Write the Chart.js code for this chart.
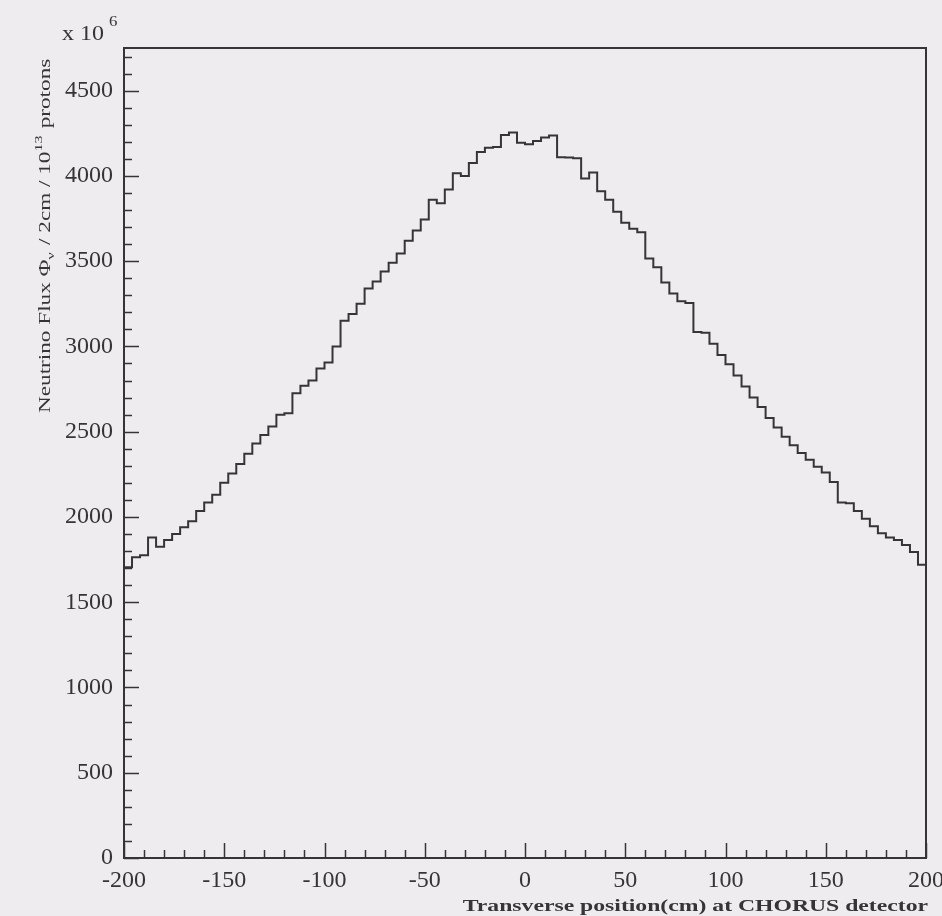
<!DOCTYPE html>
<html>
<head>
<meta charset="utf-8">
<script src="https://cdn.jsdelivr.net/npm/chart.js@4.4.1/dist/chart.umd.min.js"></script>
<style>
html,body{margin:0;padding:0;background:#eeecef;}
#wrap{width:942px;height:916px;}
canvas{display:block;}
</style>
</head>
<body>
<div id="wrap"><canvas id="c" width="942" height="916"></canvas></div>
<script>
// ---- data ----
const binLow = -200;
const binWidth = 4;
const fluxValues = [
  1705, 1764, 1775, 1880, 1825, 1865, 1900, 1940, 1975, 2035,
  2085, 2130, 2200, 2255, 2310, 2370, 2430, 2480, 2530, 2600,
  2608, 2725, 2770, 2800, 2870, 2905, 3000, 3150, 3190, 3250,
  3340, 3380, 3440, 3490, 3545, 3620, 3680, 3745, 3860, 3840,
  3920, 4015, 4000, 4075, 4140, 4165, 4170, 4240, 4255, 4195,
  4185, 4205, 4225, 4237, 4110, 4108, 4103, 3985, 4020, 3910,
  3860, 3790, 3725, 3690, 3670, 3515, 3465, 3375, 3310, 3265,
  3255, 3085, 3080, 3015, 2950, 2895, 2830, 2765, 2700, 2645,
  2580, 2525, 2470, 2420, 2375, 2335, 2295, 2260, 2205, 2085,
  2080, 2035, 1990, 1945, 1905, 1880, 1865, 1835, 1795, 1720
];
const xTickValues = [-200, -150, -100, -50, 0, 50, 100, 150, 200];
const yTickValues = [0, 500, 1000, 1500, 2000, 2500, 3000, 3500, 4000, 4500];
const xMinorStep = 10;
const yMinorStep = 100;
const xRange = [-200, 200];
const yRange = [0, 4750];
const xTitle = 'Transverse position(cm) at CHORUS detector';
const yTitleParts = ['Neutrino Flux \u03A6', '\u03BD', ' / 2cm / 10', '13', ' protons'];
const yExponentText = ['x 10', '6'];

// ---- styles ----
const bg = '#eeecef';
const ink = '#353535';
const serif = '"Liberation Serif", "DejaVu Serif", serif';

const histPoints = fluxValues.map((v, i) => ({x: binLow + i * binWidth, y: v}));
histPoints.push({x: binLow + fluxValues.length * binWidth, y: fluxValues[fluxValues.length - 1]});

function drawStretched(ctx, text, x, y, sx, align) {
  ctx.save();
  const w = ctx.measureText(text).width * sx;
  let x0 = x;
  if (align === 'right') x0 = x - w;
  else if (align === 'center') x0 = x - w / 2;
  ctx.translate(x0, y);
  ctx.scale(sx, 1);
  ctx.textAlign = 'left';
  ctx.fillText(text, 0, 0);
  ctx.restore();
  return w;
}

const rootStyle = {
  id: 'rootStyle',
  beforeDraw(chart) {
    const ctx = chart.ctx;
    ctx.save();
    ctx.fillStyle = bg;
    ctx.fillRect(0, 0, chart.width, chart.height);
    ctx.restore();
  },
  afterDatasetsDraw(chart) {
    const {ctx, chartArea: a, scales} = chart;
    const xs = scales.x, ys = scales.y;
    ctx.save();
    ctx.strokeStyle = ink;
    ctx.lineWidth = 2;
    ctx.strokeRect(a.left, a.top, a.right - a.left, a.bottom - a.top);
    ctx.lineWidth = 1.5;
    ctx.beginPath();
    for (let v = xRange[0]; v <= xRange[1]; v += xMinorStep) {
      const px = Math.round(xs.getPixelForValue(v)) + 0.5;
      const len = xTickValues.includes(v) ? 15 : 8;
      ctx.moveTo(px, a.bottom);
      ctx.lineTo(px, a.bottom - len);
    }
    for (let v = yRange[0]; v <= yRange[1]; v += yMinorStep) {
      const py = Math.round(ys.getPixelForValue(v)) + 0.5;
      const len = yTickValues.includes(v) ? 15 : 8;
      ctx.moveTo(a.left, py);
      ctx.lineTo(a.left + len, py);
    }
    ctx.stroke();
    ctx.restore();
  },
  afterDraw(chart) {
    const {ctx, chartArea: a} = chart;
    ctx.save();
    ctx.fillStyle = ink;
    ctx.textBaseline = 'alphabetic';
    // exponent label top-left
    ctx.font = '20px ' + serif;
    const w1 = drawStretched(ctx, yExponentText[0], 62, 40, 1.2, 'left');
    ctx.font = '14px ' + serif;
    drawStretched(ctx, yExponentText[1], 62 + w1 + 5, 26, 1.2, 'left');
    // x title, bottom right
    ctx.font = 'bold 16px ' + serif;
    drawStretched(ctx, xTitle, a.right + 2, 911, 1.48, 'right');
    // y title, rotated
    ctx.save();
    ctx.translate(50, 413);
    ctx.rotate(-Math.PI / 2);
    ctx.scale(1.45, 1);
    const big = '16px ' + serif, small = '11px ' + serif;
    let cx = 0;
    yTitleParts.forEach((t, i) => {
      const isSub = i === 1, isSup = i === 3;
      ctx.font = (isSub || isSup) ? small : big;
      const dy = isSub ? 4 : (isSup ? -8 : 0);
      ctx.fillText(t, cx, dy);
      cx += ctx.measureText(t).width + ((isSub || isSup) ? 1 : 0);
    });
    ctx.restore();
    ctx.restore();
  }
};

new Chart(document.getElementById('c'), {
  type: 'line',
  data: {
    datasets: [{
      data: histPoints,
      stepped: 'before',
      borderColor: ink,
      borderWidth: 2,
      pointRadius: 0,
      fill: false
    }]
  },
  options: {
    responsive: false,
    animation: false,
    devicePixelRatio: 1,
    layout: {padding: {top: 48, right: 16, left: 0, bottom: 0}},
    plugins: {legend: {display: false}, tooltip: {enabled: false}, title: {display: false}},
    scales: {
      x: {
        type: 'linear',
        min: xRange[0],
        max: xRange[1],
        afterBuildTicks(s) { s.ticks = xTickValues.map(v => ({value: v})); },
        afterFit(s) { s.height = 58; s.paddingLeft = 0; s.paddingRight = 0; },
        grid: {display: false, drawTicks: false},
        border: {display: false},
        ticks: {
          padding: 8,
          color: ink,
          font: {family: serif, size: 24},
          callback: v => String(v),
          maxRotation: 0,
          autoSkip: false
        }
      },
      y: {
        type: 'linear',
        min: yRange[0],
        max: yRange[1],
        afterBuildTicks(s) { s.ticks = yTickValues.map(v => ({value: v})); },
        afterFit(s) { s.width = 124; s.paddingTop = 0; s.paddingBottom = 0; },
        grid: {display: false, drawTicks: false},
        border: {display: false},
        ticks: {
          padding: 11,
          color: ink,
          font: {family: serif, size: 24},
          callback: v => String(v),
          autoSkip: false
        }
      }
    }
  },
  plugins: [rootStyle]
});
</script>
</body>
</html>
